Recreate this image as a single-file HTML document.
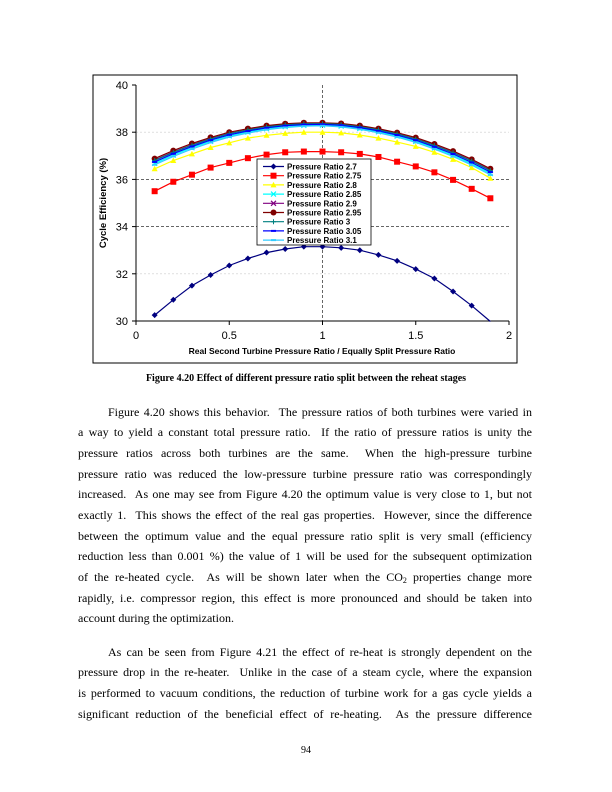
<!DOCTYPE html>
<html><head><meta charset="utf-8">
<style>
body{margin:0;background:#fff;}
#pg{position:relative;width:612px;height:792px;overflow:hidden;font-family:"Liberation Serif",serif;}
.cap{position:absolute;top:373px;left:0;width:612px;text-align:center;font-weight:bold;font-size:10px;}
.txt{position:absolute;left:78px;width:454px;font-size:12px;line-height:20.7px;color:#000;}
.txt div{height:20.7px;text-align:justify;text-align-last:justify;}
.txt div.l{text-align-last:left;}
.txt div.i{padding-left:30px;}
.sub{font-size:8px;position:relative;top:2px;line-height:0;}
.pn{position:absolute;top:745px;left:0;width:612px;text-align:center;font-size:10px;}
</style></head><body><div id="pg">
<svg id="ch" width="612" height="370" style="position:absolute;left:0;top:0" font-family="Liberation Sans, sans-serif"></svg>
<div class="cap">Figure 4.20 Effect of different pressure ratio split between the reheat stages</div>
<div class="txt" style="top:401.5px">
<div class="i">Figure 4.20 shows this behavior. &nbsp;The pressure ratios of both turbines were varied in</div>
<div>a way to yield a constant total pressure ratio. &nbsp;If the ratio of pressure ratios is unity the</div>
<div>pressure ratios across both turbines are the same. &nbsp;When the high-pressure turbine</div>
<div>pressure ratio was reduced the low-pressure turbine pressure ratio was correspondingly</div>
<div>increased. &nbsp;As one may see from Figure 4.20 the optimum value is very close to 1, but not</div>
<div>exactly 1. &nbsp;This shows the effect of the real gas properties. &nbsp;However, since the difference</div>
<div>between the optimum value and the equal pressure ratio split is very small (efficiency</div>
<div>reduction less than 0.001 %) the value of 1 will be used for the subsequent optimization</div>
<div>of the re-heated cycle. &nbsp;As will be shown later when the CO<span class="sub">2</span> properties change more</div>
<div>rapidly, i.e. compressor region, this effect is more pronounced and should be taken into</div>
<div class="l">account during the optimization.</div>
</div>
<div class="txt" style="top:641.5px">
<div class="i">As can be seen from Figure 4.21 the effect of re-heat is strongly dependent on the</div>
<div>pressure drop in the re-heater. &nbsp;Unlike in the case of a steam cycle, where the expansion</div>
<div>is performed to vacuum conditions, the reduction of turbine work for a gas cycle yields a</div>
<div>significant reduction of the beneficial effect of re-heating. &nbsp;As the pressure difference</div>
</div>
<div class="pn">94</div>
</div>
<script>
const X=v=>136+v*186.5, Y=v=>85+(40-v)*23.6;
let s='<rect x="93" y="75" width="424" height="288" fill="#fff" stroke="#000" stroke-width="1"/>';
[32,38].forEach(v=>{s+=`<line x1="136" x2="509" y1="${Y(v)}" y2="${Y(v)}" stroke="#ccc" stroke-width="0.6" stroke-dasharray="2,2"/>`});
[34,36].forEach(v=>{s+=`<line x1="136" x2="509" y1="${Y(v)}" y2="${Y(v)}" stroke="#333" stroke-width="0.8" stroke-dasharray="3,2"/>`});
s+=`<line x1="${X(1)}" x2="${X(1)}" y1="85" y2="321" stroke="#666" stroke-width="1" stroke-dasharray="3,2"/>`;
s+='<line x1="136" y1="85" x2="136" y2="321" stroke="#000"/><line x1="136" y1="321" x2="509" y2="321" stroke="#000"/>';
[30,32,34,36,38,40].forEach(v=>{s+=`<line x1="132" x2="136" y1="${Y(v)}" y2="${Y(v)}" stroke="#000"/><text x="128" y="${Y(v)+4}" font-size="11" text-anchor="end">${v}</text>`});
[0,0.5,1,1.5,2].forEach(v=>{s+=`<line x1="${X(v)}" x2="${X(v)}" y1="321" y2="325" stroke="#000"/><text x="${X(v)}" y="339" font-size="11" text-anchor="middle">${v}</text>`});
s+='<text x="322" y="354" font-size="8.5" font-weight="bold" text-anchor="middle">Real Second Turbine Pressure Ratio / Equally Split Pressure Ratio</text>';
s+='<text transform="translate(106,203) rotate(-90)" font-size="9.5" font-weight="bold" text-anchor="middle">Cycle Efficiency (%)</text>';
const a=[30.25,30.9,31.5,31.95,32.35,32.65,32.9,33.05,33.15,33.15,33.1,33.0,32.8,32.55,32.2,31.8,31.25,30.65,29.95];
const b=[35.5,35.9,36.2,36.5,36.7,36.9,37.05,37.15,37.18,37.18,37.15,37.08,36.95,36.75,36.55,36.3,35.98,35.6,35.2];
const c=[36.45,36.8,37.08,37.35,37.55,37.75,37.87,37.95,38.0,38.0,37.97,37.88,37.75,37.58,37.4,37.15,36.85,36.5,36.05];
const t=[36.88,37.22,37.52,37.78,38.0,38.15,38.28,38.36,38.4,38.4,38.37,38.28,38.15,37.98,37.77,37.5,37.2,36.85,36.45];
const off=(d,o)=>t.map((v,i)=>v-o*(1+Math.abs(i-9)/9));
const ser=[["2.7",a,"#000080","dia"],["2.75",b,"#ff0000","sq"],["2.8",c,"#ffff00","tri"],["2.85",off(t,0.1),"#00ffff","x"],["2.9",off(t,0.03),"#800080","x"],["2.95",t,"#800000","circ"],["3",off(t,0.04),"#008080","plus"],["3.05",off(t,0.07),"#0000ff","dash"],["3.1",off(t,0.13),"#33ccff","dash"]];
function mk(k,x,y,col){
 if(k=="dia")return `<path d="M${x} ${y-3}L${x+3} ${y}L${x} ${y+3}L${x-3} ${y}Z" fill="${col}"/>`;
 if(k=="sq")return `<rect x="${x-3}" y="${y-3}" width="6" height="6" fill="${col}"/>`;
 if(k=="tri")return `<path d="M${x} ${y-3}L${x+3} ${y+2.5}L${x-3} ${y+2.5}Z" fill="${col}"/>`;
 if(k=="circ")return `<circle cx="${x}" cy="${y}" r="3" fill="${col}"/>`;
 if(k=="x")return `<path d="M${x-2.5} ${y-2.5}L${x+2.5} ${y+2.5}M${x+2.5} ${y-2.5}L${x-2.5} ${y+2.5}" stroke="${col}" stroke-width="1.2"/>`;
 if(k=="plus")return `<path d="M${x-2.5} ${y}H${x+2.5}M${x} ${y-2.5}V${y+2.5}" stroke="${col}" stroke-width="1"/>`;
 return `<rect x="${x-2.5}" y="${y-1}" width="5" height="2" fill="${col}"/>`;
}
ser.forEach(([n,d,col,k])=>{
 let p=d.map((v,i)=>`${X(0.1*(i+1)).toFixed(1)},${Y(Math.max(v,29.98)).toFixed(1)}`).join(' ');
 s+=`<polyline points="${p}" fill="none" stroke="${col}" stroke-width="1.2"/>`;
 d.forEach((v,i)=>{if(v>=29.98)s+=mk(k,X(0.1*(i+1)),Y(v),col)});
});
s+='<rect x="257" y="159" width="114" height="86" fill="#fff" stroke="#000" stroke-width="0.8"/>';
ser.forEach(([n,d,col,k],i)=>{let y=166.5+i*9.2;
 s+=`<line x1="263" x2="284" y1="${y}" y2="${y}" stroke="${col}" stroke-width="1.2"/>`+mk(k,273.5,y,col)+`<text x="287" y="${y+3}" font-size="8" font-weight="bold">Pressure Ratio ${n}</text>`});
document.getElementById('ch').innerHTML=s;
</script>
</body></html>
